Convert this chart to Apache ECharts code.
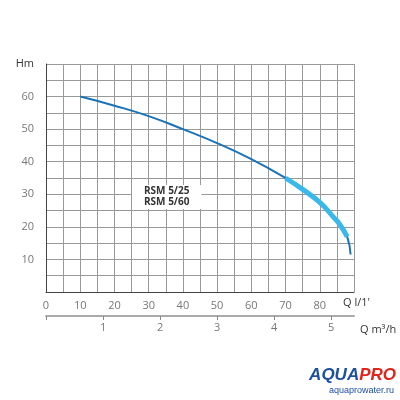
<!DOCTYPE html>
<html><head><meta charset="utf-8">
<script src="https://cdn.jsdelivr.net/npm/echarts@6/dist/echarts.min.js"></script>
<style>html,body{margin:0;background:#fff}#c{width:400px;height:400px}</style>
</head><body><div id="c"></div>
<script>
var flowLpm = [10, 20, 30, 40, 50, 60, 70, 75, 80, 84, 86, 88, 89];
var head =    [60, 57.2, 54, 50, 45.7, 40.8, 35, 31.5, 27.5, 23, 20.5, 17, 11.5];
var bestFrom = 70, bestTo = 88;

var mainLine = flowLpm.map(function (q, i) { return [q, head[i]]; });
var bestLine = mainLine.filter(function (p) { return p[0] >= bestFrom && p[0] <= bestTo; });

var chart = echarts.init(document.getElementById('c'));
chart.setOption({
  animation: false,
  grid: { left: 46, right: 46, top: 64, bottom: 108 },
  xAxis: [{
    type: 'value', min: 0, max: 90, interval: 5,
    axisLine: { show: true, lineStyle: { color: '#444', width: 1 } },
    axisTick: { show: false },
    splitLine: { show: true, lineStyle: { color: '#999', width: 1 } },
    axisLabel: { color: '#777', fontSize: 11, fontFamily: 'Open Sans', margin: 8,
      formatter: function (v) { return v === 90 ? '' : (v % 10 === 0 ? String(v) : ''); } }
  }, {
    type: 'value', position: 'bottom', offset: 24, min: 0, max: 5.4, interval: 1,
    axisLine: { show: true, lineStyle: { color: '#aaa', width: 2 } },
    axisTick: { show: true, length: 4, lineStyle: { color: '#888' } },
    splitLine: { show: false },
    axisLabel: { color: '#777', fontSize: 11, fontFamily: 'Open Sans', margin: 6, showMaxLabel: false,
      formatter: function (v) { return v === 0 || v > 5 ? '' : String(v); } },
    name: 'Q m³/h', nameLocation: 'end', nameGap: 6,
    nameTextStyle: { color: '#333', fontSize: 11, fontFamily: 'Open Sans', verticalAlign: 'top', padding: [8, 0, 0, 0] }
  }],
  yAxis: {
    type: 'value', min: 0, max: 70, interval: 5,
    axisLine: { show: true, lineStyle: { color: '#444' } },
    axisTick: { show: false },
    splitLine: { show: true, lineStyle: { color: '#999', width: 1 } },
    axisLabel: { color: '#777', fontSize: 11, fontFamily: 'Open Sans', margin: 12,
      formatter: function (v) { if (v === 70) return '{h|Hm}'; return v > 0 && v % 10 === 0 ? String(v) : ''; },
      rich: { h: { color: '#333', fontSize: 11, fontFamily: 'Open Sans' } } }
  },
  series: [{
    type: 'line', data: mainLine, smooth: true, symbol: 'none',
    lineStyle: { color: '#1a73b8', width: 2 }, z: 3
  }, {
    type: 'line', data: bestLine, smooth: true, symbol: 'none',
    lineStyle: { color: '#3ab8ea', width: 5 }, z: 4
  }],
  graphic: [
    { type: 'text', left: 132, top: 185, z: 10, style: { text: 'RSM 5/25\nRSM 5/60', fill: '#333',
      font: 'bold 10px "Open Sans"', lineHeight: 11, backgroundColor: '#fff', padding: [1, 12, 1, 12] } },
    { type: 'text', left: 343, top: 297, style: { text: "Q l/1'", fill: '#333', font: '11px "Open Sans"' } },
    { type: 'text', right: 4, top: 367, style: { rich: {
        a: { fill: '#1d4fa3', font: 'italic bold 17px "Liberation Sans"' },
        p: { fill: '#e0261c', font: 'italic bold 17px "Liberation Sans"' } },
      text: '{a|AQUA}{p|PRO}' } },
    { type: 'text', right: 6, top: 386, style: { text: 'aquaprowater.ru', fill: '#1d4fa3', font: '9px "Liberation Sans"' } }
  ]
});
</script></body></html>
